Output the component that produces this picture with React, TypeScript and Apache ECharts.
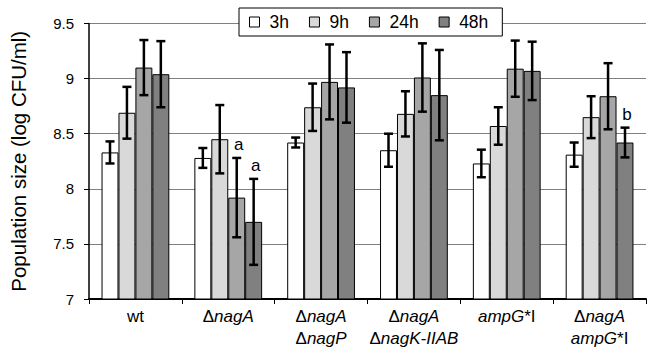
import React, { useEffect, useRef } from "react";
import * as echarts from "echarts";

const categories = ["wt", "ΔnagA", "ΔnagA ΔnagP", "ΔnagA ΔnagK-IIAB", "ampG*I", "ΔnagA ampG*I"];
const categoryLabels = [
  "wt",
  "Δ{i|nagA}",
  "Δ{i|nagA}\nΔ{i|nagP}",
  "Δ{i|nagA}\nΔ{i|nagK-IIAB}",
  "{i|ampG}*I",
  "Δ{i|nagA}\n{i|ampG}*I",
];
const seriesNames = ["3h", "9h", "24h", "48h"];
const seriesColors = ["#ffffff", "#d9d9d9", "#a6a6a6", "#808080"];

const h3 = [8.33, 8.28, 8.42, 8.35, 8.23, 8.31];
const h3err = [0.1, 0.09, 0.045, 0.15, 0.125, 0.11];
const h9 = [8.69, 8.45, 8.74, 8.68, 8.57, 8.65];
const h9err = [0.235, 0.31, 0.215, 0.205, 0.17, 0.19];
const h24 = [9.1, 7.92, 8.97, 9.01, 9.09, 8.84];
const h24err = [0.25, 0.36, 0.34, 0.31, 0.255, 0.3];
const h48 = [9.04, 7.7, 8.92, 8.85, 9.07, 8.42];
const h48err = [0.3, 0.39, 0.32, 0.41, 0.265, 0.135];

const annotations = [
  { category: 1, series: 2, label: "a" },
  { category: 1, series: 3, label: "a" },
  { category: 5, series: 3, label: "b" },
];

const yTicks = { min: 7, max: 9.5, interval: 0.5 };

const FONT = "'Liberation Sans', Arial, sans-serif";
const GAP = 0.27;

export default function App() {
  const ref = useRef<HTMLDivElement>(null);
  useEffect(() => {
    document.body.style.margin = "0";
    if (!ref.current) return;
    const chart = echarts.init(ref.current, undefined, { renderer: "svg" });
    const values = [h3, h9, h24, h48];
    const errs = [h3err, h9err, h24err, h48err];

    const barSeries = seriesNames.map((name, si) => ({
      name,
      type: "bar",
      data: values[si],
      barGap: "0%",
      barCategoryGap: (GAP * 100) + "%",
      itemStyle: { color: seriesColors[si], borderColor: "#000", borderWidth: 1 },
      z: 2,
    }));

    const errData: number[][] = [];
    values.forEach((arr, si) => arr.forEach((v, ci) => errData.push([ci, v, errs[si][ci], si])));

    const errSeries = {
      type: "custom",
      name: "err",
      data: errData,
      encode: { x: 0, y: 1 },
      z: 5,
      renderItem: (params: any, api: any) => {
        const ci = api.value(0);
        const v = api.value(1);
        const e = api.value(2);
        const si = api.value(3);
        const band = api.size([1, 0])[0];
        const bw = (band * (1 - GAP)) / 4;
        const cx = api.coord([ci, v])[0] + (si - 1.5) * bw;
        const top = api.coord([ci, v + e])[1];
        const bot = api.coord([ci, v - e])[1];
        const cap = 4.5;
        const style = { stroke: "#000", lineWidth: 2.5 };
        return {
          type: "group",
          children: [
            { type: "line", shape: { x1: cx, y1: top, x2: cx, y2: bot }, style },
            { type: "line", shape: { x1: cx - cap, y1: top, x2: cx + cap, y2: top }, style },
            { type: "line", shape: { x1: cx - cap, y1: bot, x2: cx + cap, y2: bot }, style },
          ],
        };
      },
    };

    const annSeries = {
      type: "custom",
      name: "ann",
      data: annotations.map((a) => [a.category, values[a.series][a.category] + errs[a.series][a.category], a.series]),
      encode: { x: 0, y: 1 },
      z: 6,
      renderItem: (params: any, api: any) => {
        const a = annotations[params.dataIndex];
        const ci = api.value(0);
        const top = api.value(1);
        const si = api.value(2);
        const band = api.size([1, 0])[0];
        const bw = (band * (1 - GAP)) / 4;
        const p = api.coord([ci, top]);
        const cx = p[0] + (si - 1.5) * bw + 2;
        return {
          type: "text",
          x: cx,
          y: p[1] - 5,
          style: {
            text: a.label,
            fontSize: 17,
            fontFamily: FONT,
            fill: "#000",
            align: "center",
            verticalAlign: "bottom",
          },
        };
      },
    };

    chart.setOption({
      animation: false,
      backgroundColor: "#fff",
      textStyle: { fontFamily: FONT },
      grid: { left: 82, right: 1, top: 23.5, bottom: 53 },
      legend: {
        data: seriesNames,
        left: 239,
        top: 8,
        icon: "rect",
        itemWidth: 10,
        itemHeight: 10,
        itemGap: 20,
        selectedMode: false,
        backgroundColor: "#fff",
        borderColor: "#000",
        borderWidth: 1,
        borderRadius: 0,
        padding: [5, 14, 5, 10],
        itemStyle: { borderColor: "#000", borderWidth: 1 },
        textStyle: { fontSize: 17.5, fontFamily: FONT, color: "#000", padding: [0, 0, 0, 5] },
      },
      xAxis: {
        type: "category",
        data: categories,
        axisLine: { lineStyle: { color: "#000", width: 2 } },
        axisTick: { show: true, length: 5, lineStyle: { color: "#000", width: 1 } },
        axisLabel: {
          interval: 0,
          margin: 6,
          fontSize: 17,
          lineHeight: 22,
          color: "#000",
          fontFamily: FONT,
          formatter: (_v: string, idx: number) => categoryLabels[idx],
          rich: {
            i: { fontStyle: "italic", fontSize: 17, lineHeight: 22, fontFamily: FONT, color: "#000" },
          },
        },
      },
      yAxis: {
        type: "value",
        min: yTicks.min,
        max: yTicks.max,
        interval: yTicks.interval,
        name: "Population size (log CFU/ml)",
        nameLocation: "middle",
        nameGap: 60,
        nameTextStyle: { fontSize: 20.5, color: "#000", fontFamily: FONT },
        axisLine: { show: true, lineStyle: { color: "#000", width: 1.5 } },
        axisTick: { show: true, length: 5, lineStyle: { color: "#000", width: 1 } },
        axisLabel: { margin: 15, fontSize: 15, color: "#000", fontFamily: FONT },
        splitLine: { show: true, lineStyle: { color: "#808080", width: 1 } },
      },
      series: [...barSeries, errSeries, annSeries],
    });
    return () => chart.dispose();
  }, []);
  return <div ref={ref} style={{ width: 647, height: 352 }} />;
}
